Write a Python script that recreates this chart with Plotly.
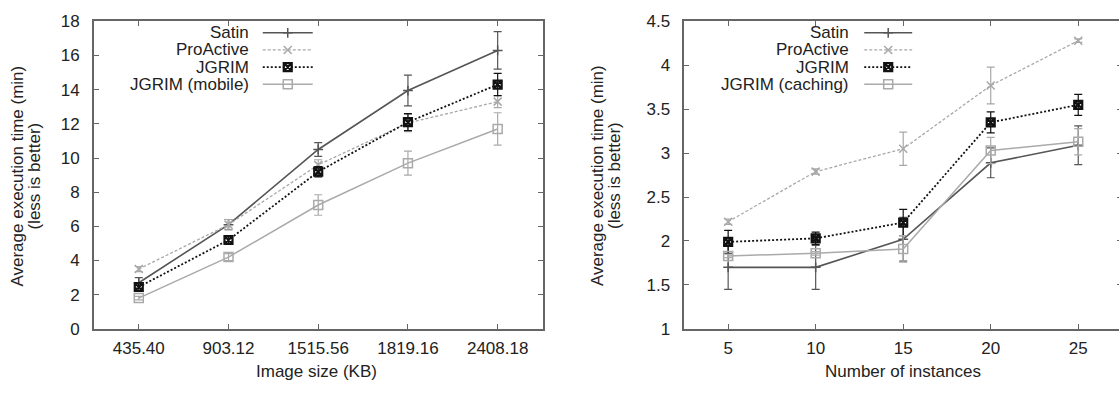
import plotly.graph_objects as go

# ---------------- data ----------------
image_sizes = ["435.40", "903.12", "1515.56", "1819.16", "2408.18"]
satin_img = [2.7, 6.1, 10.5, 13.95, 16.3]
satin_img_err = [0.3, 0.3, 0.4, 0.9, 1.1]
proactive_img = [3.5, 6.1, 9.6, 12.05, 13.3]
proactive_img_err = [0.15, 0.3, 0.3, 0.5, 0.35]
jgrim_img = [2.45, 5.2, 9.2, 12.1, 14.3]
jgrim_img_err = [0.2, 0.2, 0.3, 0.5, 0.65]
mobile_img = [1.8, 4.2, 7.25, 9.7, 11.7]
mobile_img_err = [0.1, 0.2, 0.6, 0.7, 0.95]

instances = [5, 10, 15, 20, 25]
satin_inst = [1.7, 1.7, 2.02, 2.89, 3.09]
satin_inst_err = [0.25, 0.25, 0.25, 0.17, 0.22]
proactive_inst = [2.22, 2.79, 3.05, 3.77, 4.28]
proactive_inst_err = [0.03, 0.03, 0.19, 0.21, 0.02]
jgrim_inst = [1.99, 2.03, 2.21, 3.35, 3.55]
jgrim_inst_err = [0.13, 0.07, 0.15, 0.12, 0.12]
caching_inst = [1.83, 1.86, 1.91, 3.03, 3.13]
caching_inst_err = [0.02, 0.02, 0.15, 0.15, 0.15]

left_names = ["Satin", "ProActive", "JGRIM", "JGRIM (mobile)"]
right_names = ["Satin", "ProActive", "JGRIM", "JGRIM (caching)"]

# ---------------- styles ----------------
W, H = 1124, 395
FONT = "Liberation Sans, Arial, Helvetica, sans-serif"
FS = 17
TXT = "#222222"
FRAME = "#666666"
styles = [
    dict(color="#555555", dash="solid", width=1.6, symbol="cross-thin-open", size=7, mlw=1.5),
    dict(color="#a8a8a8", dash="3px,2px", width=1.3, symbol="x-thin-open", size=8, mlw=1.5),
    dict(color="#111111", dash="2px,2px", width=1.8, symbol="square-x-open", size=8, mlw=2.2),
    dict(color="#aaaaaa", dash="solid", width=1.5, symbol="square-open", size=9, mlw=1.5),
]

fig = go.Figure()


def add_series(x, y, err, st, xa, ya):
    fig.add_trace(go.Scatter(
        x=x, y=y, mode="lines+markers", xaxis=xa, yaxis=ya, showlegend=False,
        line=dict(color=st["color"], dash=st["dash"], width=st["width"]),
        marker=dict(symbol=st["symbol"], size=st["size"], color=st["color"],
                    line=dict(color=st["color"], width=st["mlw"])),
        error_y=dict(type="data", array=err, visible=True, color=st["color"],
                     thickness=1.2, width=4),
    ))


left_series = [(satin_img, satin_img_err), (proactive_img, proactive_img_err),
               (jgrim_img, jgrim_img_err), (mobile_img, mobile_img_err)]
right_series = [(satin_inst, satin_inst_err), (proactive_inst, proactive_inst_err),
                (jgrim_inst, jgrim_inst_err), (caching_inst, caching_inst_err)]

for (y, e), st in zip(left_series, styles):
    add_series(image_sizes, y, e, st, "x", "y")
for (y, e), st in zip(right_series, styles):
    add_series(instances, y, e, st, "x2", "y2")

# ---------- legend samples on a pixel overlay axis ----------
rows_y = [25, 43, 61, 79]
legend_cfg = [
    dict(names=left_names, text_x=251, l0=263, l1=313, m=288),
    dict(names=right_names, text_x=852, l0=865, l1=913, m=889),
]
annotations = []
for cfg in legend_cfg:
    for name, ry, st in zip(cfg["names"], rows_y, styles):
        fig.add_trace(go.Scatter(
            x=[cfg["l0"], cfg["l1"]], y=[ry, ry], mode="lines", xaxis="x3", yaxis="y3",
            showlegend=False, hoverinfo="skip",
            line=dict(color=st["color"], dash=st["dash"], width=st["width"])))
        fig.add_trace(go.Scatter(
            x=[cfg["m"]], y=[ry], mode="markers", xaxis="x3", yaxis="y3",
            showlegend=False, hoverinfo="skip",
            marker=dict(symbol=st["symbol"], size=st["size"], color=st["color"],
                        line=dict(color=st["color"], width=st["mlw"]))))
        annotations.append(dict(x=cfg["text_x"], y=ry, xref="x3", yref="y3", text=name,
                                showarrow=False, xanchor="right", yanchor="middle",
                                font=dict(family=FONT, size=FS, color=TXT)))

# axis titles
for xpos in (18, 598):
    annotations.append(dict(x=xpos, y=175, xref="x3", yref="y3",
                            text="Average execution time (min)", textangle=-90,
                            showarrow=False, xanchor="center", yanchor="middle",
                            font=dict(family=FONT, size=FS, color=TXT)))
for xpos in (35, 615):
    annotations.append(dict(x=xpos, y=175, xref="x3", yref="y3",
                            text="(less is better)", textangle=-90,
                            showarrow=False, xanchor="center", yanchor="middle",
                            font=dict(family=FONT, size=FS, color=TXT)))
annotations.append(dict(x=317, y=381, xref="x3", yref="y3", text="Image size (KB)",
                        showarrow=False, xanchor="center", yanchor="middle",
                        font=dict(family=FONT, size=FS, color=TXT)))
annotations.append(dict(x=904, y=381, xref="x3", yref="y3", text="Number of instances",
                        showarrow=False, xanchor="center", yanchor="middle",
                        font=dict(family=FONT, size=FS, color=TXT)))

ydom = [(H - 336) / H, (H - 13) / H]
axis_common = dict(showline=True, linecolor=FRAME, linewidth=1.5, mirror="allticks",
                   ticks="inside", ticklen=5, tickcolor=FRAME, tickwidth=1.2,
                   showgrid=False, zeroline=False,
                   tickfont=dict(family=FONT, size=FS, color=TXT))

fig.update_layout(
    width=W, height=H,
    margin=dict(l=0, r=0, t=0, b=0),
    paper_bgcolor="white", plot_bgcolor="rgba(0,0,0,0)",
    showlegend=False,
    xaxis=dict(domain=[94 / W, 543 / W], type="category", range=[-0.5, 4.5],
               anchor="y", ticklabelstandoff=3, **axis_common),
    yaxis=dict(domain=ydom, range=[0, 18], dtick=2, anchor="x",
               ticklabelstandoff=9, **axis_common),
    xaxis2=dict(domain=[685 / W, 1123 / W], range=[2.5, 27.5],
                tickvals=instances, anchor="y2", ticklabelstandoff=3, **axis_common),
    yaxis2=dict(domain=ydom, range=[1, 4.5], dtick=0.5, anchor="x2",
                ticklabelstandoff=9, **axis_common),
    xaxis3=dict(domain=[0, 1], range=[0, W], visible=False, anchor="y3", fixedrange=True),
    yaxis3=dict(domain=[0, 1], range=[H, 0], visible=False, anchor="x3", fixedrange=True),
    annotations=annotations,
)

fig.write_html("out.html",
               config={"displayModeBar": False},
               post_script="document.body.style.margin='0';document.body.style.overflow='hidden';"
                           "document.documentElement.style.overflow='hidden';")
